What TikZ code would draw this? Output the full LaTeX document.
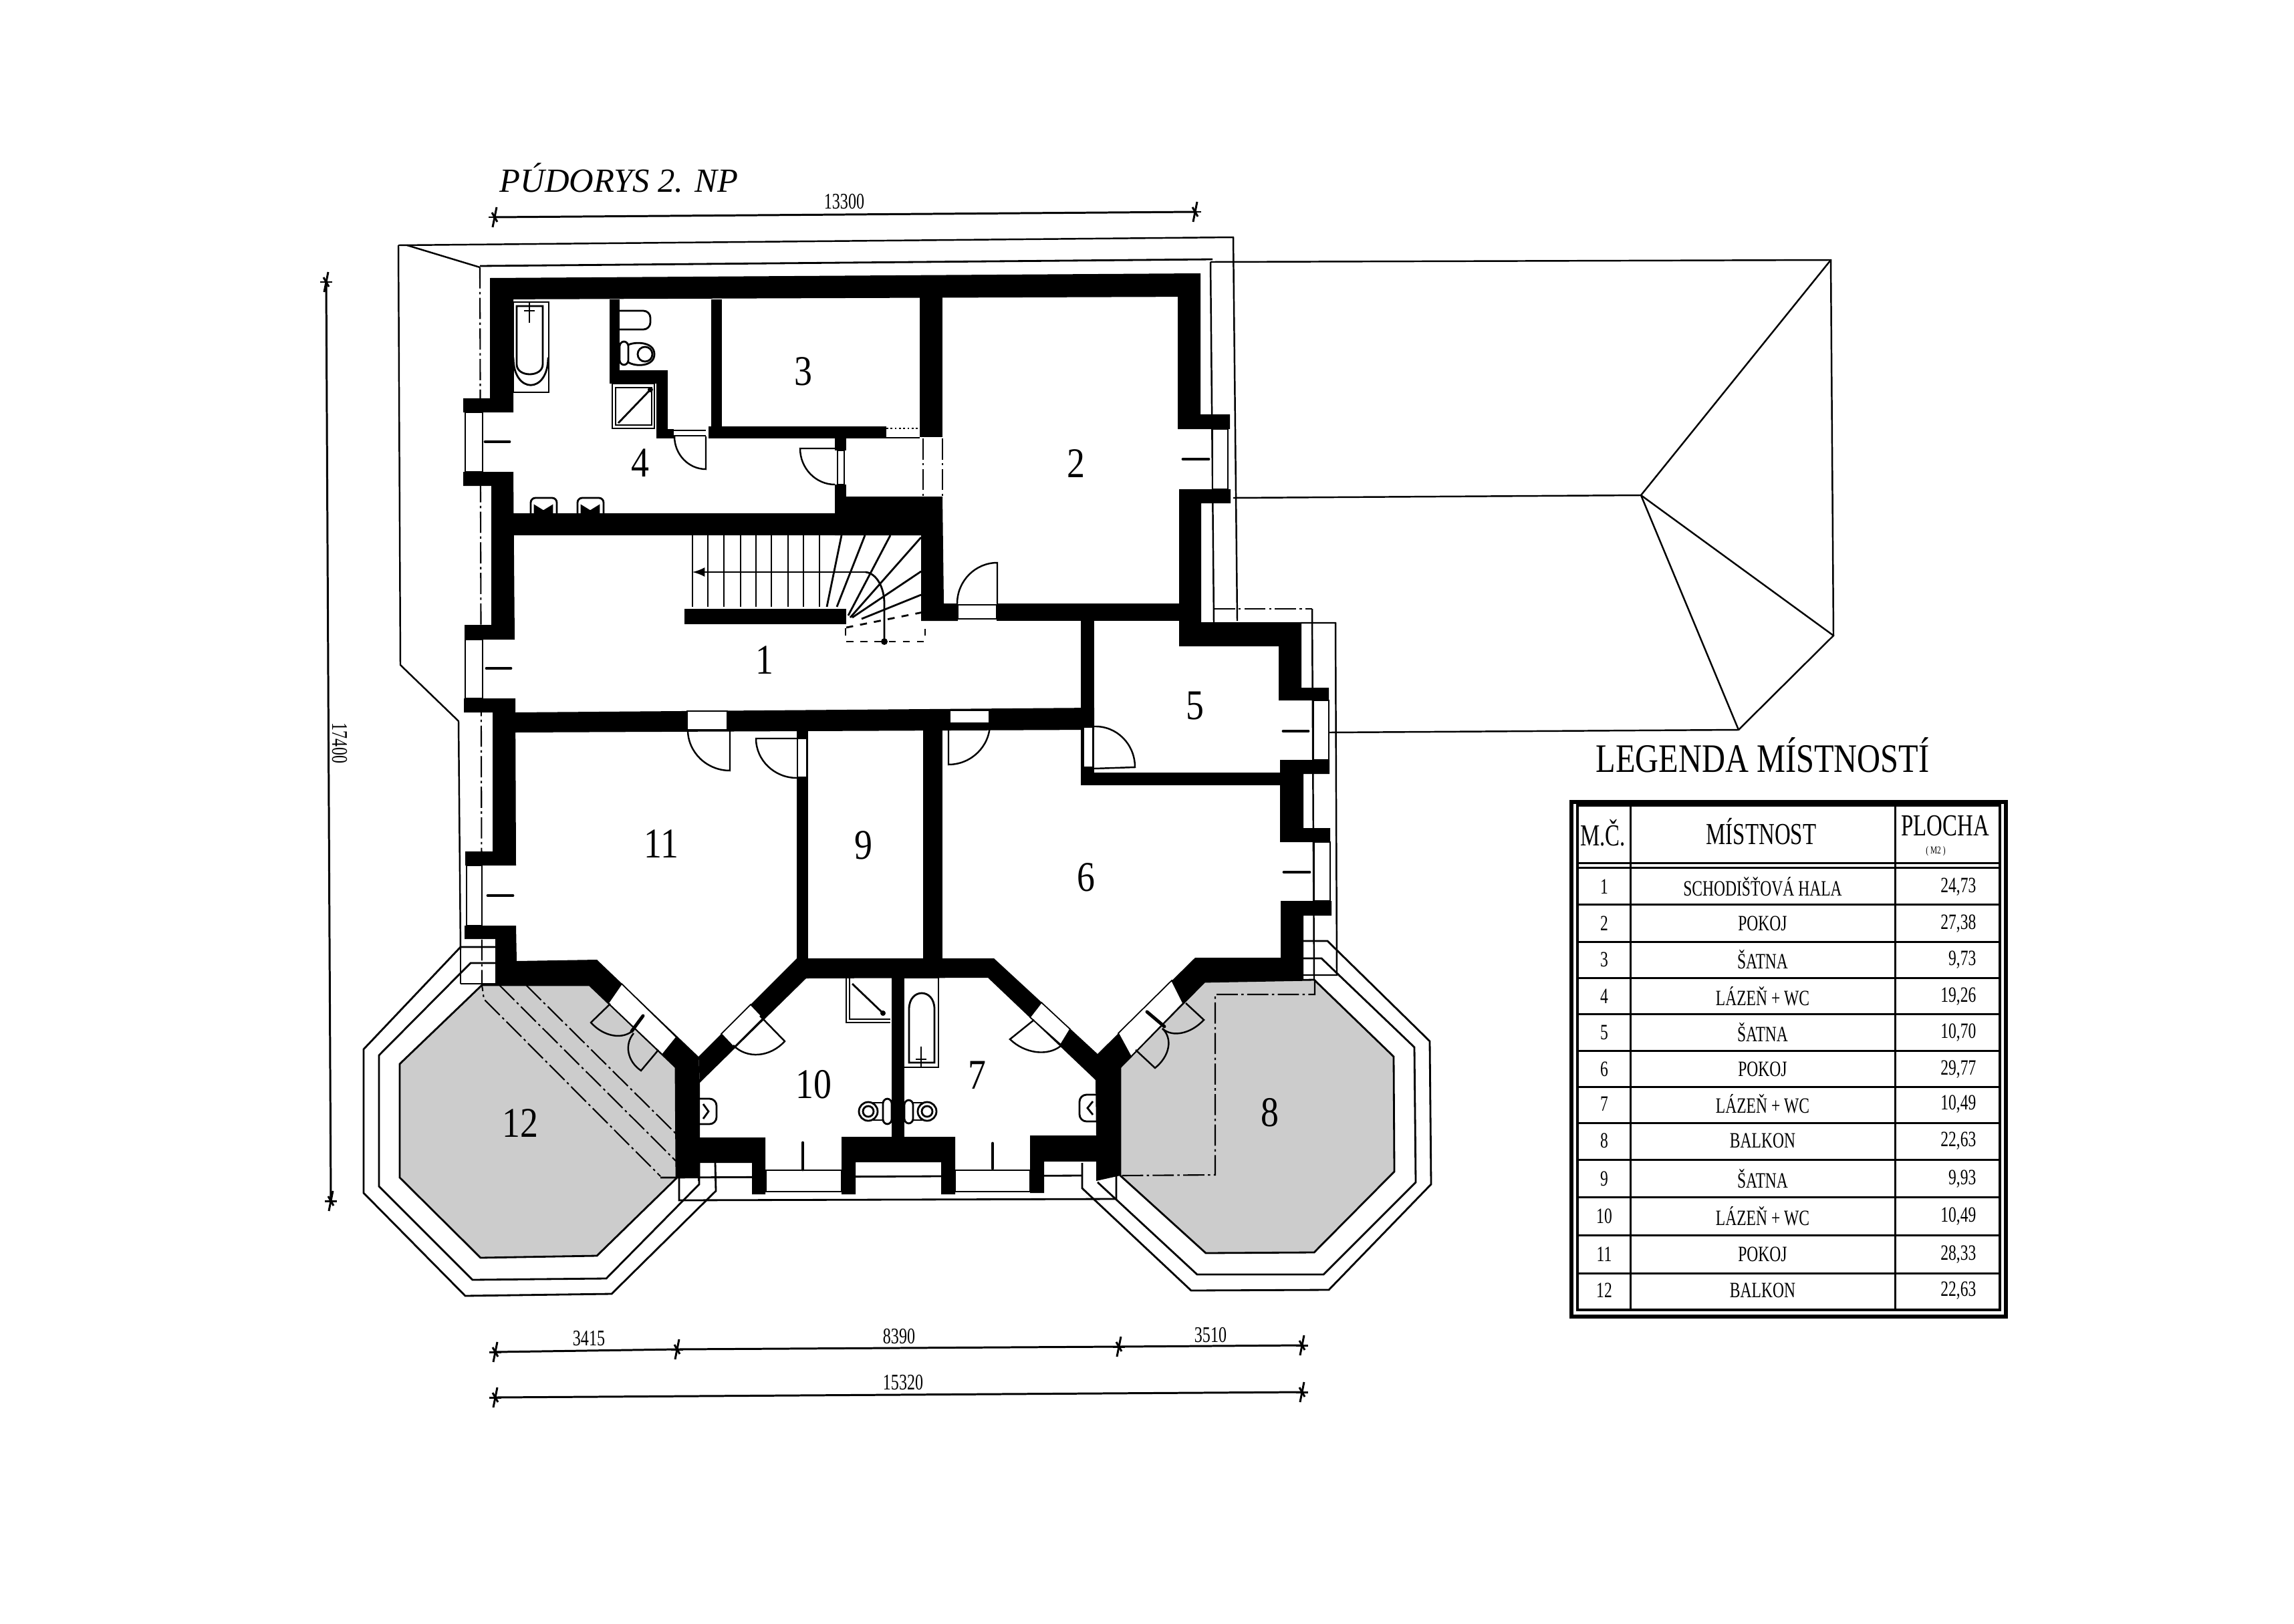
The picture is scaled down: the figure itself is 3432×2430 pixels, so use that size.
\documentclass[tikz,border=0pt]{standalone}
\usepackage{fontspec}
\setmainfont{Liberation Serif}
\newfontfamily\roomfont[FakeStretch=.85]{Liberation Serif}
\newfontfamily\legendfont[FakeStretch=.8]{Liberation Serif}
\newfontfamily\cellfont[FakeStretch=.72]{Liberation Serif}
\usetikzlibrary{calc}
\tikzset{
  wallfill/.style={fill=black,draw=none},
  gapfill/.style={fill=white,draw=black,line width=.5pt},
  thinline/.style={draw=black,line width=.7pt},
  ringline/.style={draw=black,line width=.8pt},
  dashdotline/.style={draw=black,line width=.6pt,dash pattern=on 9pt off 1.5pt on 1pt off 1.5pt},
  fixture/.style={draw=black,line width=.8pt},
  dimline/.style={draw=black,line width=.85pt},
  windowmark/.style={draw=black,line width=1.4pt,line cap=round},
  roomnum/.style={font=\roomfont\fontsize{18}{18}\selectfont,inner sep=0pt},
  dimnum/.style={font=\cellfont\fontsize{9.5}{9.5}\selectfont,inner sep=0pt},
  cellnum/.style={font=\cellfont\fontsize{9.3}{9.3}\selectfont,inner sep=0pt},
  cellhead/.style={font=\cellfont\fontsize{13}{13}\selectfont,inner sep=0pt},
  tableline/.style={draw=black,line width=.85pt}
}
\newcommand{\dimtick}[1]{\draw[dimline] ($(#1)+(-3,15)$) -- ($(#1)+(3,-15)$);
\draw[dimline] ($(#1)+(-9,0)$) -- ($(#1)+(9,0)$);
\draw[dimline] ($(#1)+(-4,-7)$) -- ($(#1)+(4,7)$);}
\newcommand{\doorswing}[3]{\draw[thinline] (#1) -- (#2) .. controls ($(#2)+.55*(#3)-.55*(#1)$) and ($(#3)+.55*(#2)-.55*(#1)$) .. (#3);}
\begin{document}
\begin{tikzpicture}[x=0.01cm,y=-0.01cm]
\useasboundingbox (0,0) rectangle (3432,2430);
\fill[white] (0,0) rectangle (3432,2430);
\filldraw[fill=black!20,ringline] (721,1474) -- (598,1592) -- (598,1762) -- (719,1882) -- (893,1879) -- (1012,1763) -- (1011,1597) -- (882,1474) -- cycle;
\filldraw[fill=black!20,ringline] (1802,1469) -- (1966,1466) -- (2085,1581) -- (2086,1753) -- (1966,1874) -- (1804,1875) -- (1676,1759) -- (1676,1597) -- cycle;
\draw[ringline] (741,1441) -- (704,1441) -- (567,1579) -- (567,1775) -- (707,1915) -- (907,1913) -- (1046,1772) -- (1046,1740);
\draw[ringline] (741,1417) -- (689,1417) -- (544,1570) -- (544,1785) -- (696,1939) -- (915,1936) -- (1071,1782) -- (1070,1740);
\draw[ringline] (1950,1434) -- (1977,1434) -- (2116,1567) -- (2118,1769) -- (1980,1907) -- (1791,1907) -- (1642,1769);
\draw[ringline] (1950,1408) -- (1986,1408) -- (2139,1558) -- (2141,1772) -- (1988,1930) -- (1782,1931) -- (1619,1778) -- (1619,1740);
\draw[thinline] (689,1472) -- (741,1472);
\draw[thinline] (689,1417) -- (689,1472);
\draw[thinline] (596,367) -- (1845,355) -- (1851,929);
\draw[thinline] (596,367) -- (599,995) -- (686,1079) -- (689,1421);
\draw[thinline] (609,367) -- (718,400);
\draw[ringline] (718,398) -- (1814,388);
\draw[dashdotline] (718,400) -- (721,1474) -- (724,1495) -- (988,1760);
\draw[dashdotline] (747,1474) -- (1011,1737);
\draw[dashdotline] (787,1474) -- (1011,1696);
\draw[dashdotline] (1967,1466) -- (1967,1488) -- (1818,1488) -- (1818,1758) -- (1676,1759);
\draw[thinline] (1811,392) -- (1816,932);
\draw[dashdotline] (1816,911) -- (1963,911);
\draw[thinline] (1963,911) -- (1966,1466);
\draw[thinline] (1946,932) -- (1998,932) -- (2000,1459) -- (1950,1459);
\draw[thinline] (1811,392) -- (2739,389) -- (2743,951) -- (2601,1092) -- (1988,1096);
\draw[thinline] (2739,389) -- (2455,741) -- (1845,745);
\draw[thinline] (2455,741) -- (2743,951);
\draw[thinline] (2455,741) -- (2601,1092);
\draw[ringline] (988,1762) -- (1619,1759);
\draw[ringline] (1016,1740) -- (1016,1796) -- (1670,1794) -- (1670,1738);
\draw[thinline] (1045,1740) -- (1045,1767);
\draw[gapfill] (696,617) rectangle (722,706);
\draw[gapfill] (696,957) rectangle (722,1045);
\draw[gapfill] (698,1295) rectangle (721,1385);
\draw[gapfill] (1814,642) rectangle (1837,732);
\draw[gapfill] (1965,1048) rectangle (1988,1137);
\draw[gapfill] (1966,1260) rectangle (1990,1348);
\draw[gapfill] (1146,1751) rectangle (1259,1783);
\draw[gapfill] (1429,1751) rectangle (1541,1783);
\draw[dashdotline] (1381,656) -- (1381,743);
\draw[dashdotline] (1410,656) -- (1410,743);
\fill[wallfill] (733,416) -- (1794,409) -- (1794,444) -- (733,448) -- cycle;
\fill[wallfill] (733,416) -- (768,416) -- (768,617) -- (693,617) -- (693,596) -- (733,596) -- cycle;
\fill[wallfill] (693,706) -- (768,706) -- (770,957) -- (695,957) -- (695,935) -- (735,935) -- (735,727) -- (693,727) -- cycle;
\fill[wallfill] (694,1045) -- (771,1045) -- (772,1295) -- (696,1295) -- (696,1274) -- (737,1274) -- (737,1066) -- (694,1066) -- cycle;
\fill[wallfill] (695,1385) -- (772,1385) -- (773,1438) -- (893,1436) -- (1045,1581) -- (1045,1620) -- (1011,1597) -- (882,1474) -- (741,1474) -- (741,1405) -- (695,1405) -- cycle;
\fill[wallfill] (1011,1597) -- (1045,1581) -- (1047,1620) -- (1047,1702) -- (1145,1702) -- (1145,1787) -- (1125,1787) -- (1125,1740) -- (1047,1740) -- (1047,1762) -- (1011,1762) -- cycle;
\fill[wallfill] (1045,1581) -- (1192,1434) -- (1487,1434) -- (1642,1577) -- (1788,1433) -- (1916,1433) -- (1916,1348) -- (1992,1348) -- (1992,1370) -- (1950,1370) -- (1950,1466) -- (1802,1469) -- (1676,1597) -- (1676,1759) -- (1640,1767) -- (1640,1738) -- (1562,1738) -- (1562,1785) -- (1541,1785) -- (1541,1699) -- (1640,1699) -- (1639,1616) -- (1478,1463) -- (1206,1464) -- (1047,1620) -- cycle;
\fill[wallfill] (1259,1701) -- (1429,1701) -- (1429,1787) -- (1408,1787) -- (1408,1739) -- (1280,1739) -- (1280,1787) -- (1259,1787) -- cycle;
\fill[wallfill] (1334,1463) rectangle (1353,1703);
\fill[wallfill] (1192,1094) rectangle (1209,1436);
\fill[wallfill] (1381,1092) rectangle (1410,1436);
\fill[wallfill] (771,1066) -- (1637,1059) -- (1637,1092) -- (771,1096) -- cycle;
\fill[wallfill] (1617,929) rectangle (1637,1175);
\fill[wallfill] (1617,1156) rectangle (1916,1175);
\fill[wallfill] (1762,409) -- (1796,409) -- (1796,620) -- (1840,620) -- (1840,642) -- (1762,642) -- cycle;
\fill[wallfill] (1764,732) -- (1841,732) -- (1841,753) -- (1797,753) -- (1797,931) -- (1947,931) -- (1947,1029) -- (1988,1029) -- (1988,1048) -- (1913,1048) -- (1913,967) -- (1764,967) -- cycle;
\fill[wallfill] (1915,1137) -- (1989,1137) -- (1989,1158) -- (1950,1158) -- (1950,1239) -- (1990,1239) -- (1990,1260) -- (1915,1260) -- cycle;
\fill[wallfill] (1376,444) rectangle (1410,654);
\fill[wallfill] (1249,743) -- (1410,743) -- (1412,903) -- (1433,903) -- (1433,929) -- (1378,929) -- (1378,801) -- (1249,801) -- cycle;
\fill[wallfill] (768,768) rectangle (1250,801);
\fill[wallfill] (1491,903) rectangle (1764,929);
\fill[wallfill] (1024,911) rectangle (1266,934);
\fill[wallfill] (1064,448) rectangle (1080,638);
\fill[wallfill] (1060,638) rectangle (1326,656);
\fill[wallfill] (982,642) rectangle (1008,656);
\fill[wallfill] (1249,656) rectangle (1266,674);
\fill[wallfill] (1249,725) rectangle (1266,743);
\fill[wallfill] (912,448) rectangle (927,567);
\fill[wallfill] (912,554) rectangle (999,574);
\fill[wallfill] (982,554) rectangle (999,656);
\draw[thinline] (1008,644) -- (1056,644);
\draw[thinline] (1008,652) -- (1056,652);
\draw[ringline,densely dotted] (1326,641) -- (1376,641);
\draw[ringline] (1326,655) -- (1376,655);
\draw[gapfill] (1028,1064) rectangle (1088,1092);
\fill[white] (1422,1064) rectangle (1479,1081);
\draw[gapfill] (1433,905) rectangle (1491,926);
\fill[white] (1194,1106) rectangle (1206,1162);
\fill[white] (1622,1089) rectangle (1634,1147);
\draw[gapfill] (1253,674) rectangle (1263,725);
\filldraw[gapfill] (930,1472) -- (1012,1552) -- (991,1578) -- (910,1501) -- cycle;
\filldraw[gapfill] (1079,1547) -- (1123,1503) -- (1142,1523) -- (1098,1567) -- cycle;
\filldraw[gapfill] (1558,1500) -- (1601,1540) -- (1587,1563) -- (1541,1522) -- cycle;
\filldraw[gapfill] (1673,1546) -- (1753,1467) -- (1770,1501) -- (1692,1581) -- cycle;
\draw[windowmark] (726,661) -- (762,661);
\draw[windowmark] (728,1000) -- (764,1000);
\draw[windowmark] (730,1340) -- (767,1340);
\draw[windowmark] (1770,687) -- (1808,687);
\draw[windowmark] (1920,1094) -- (1957,1094);
\draw[windowmark] (1921,1305) -- (1959,1305);
\draw[windowmark] (1201,1710) -- (1201,1750);
\draw[windowmark] (1485,1711) -- (1485,1748);
\draw[windowmark] (962,1520) -- (945,1543);
\draw[windowmark] (1716,1514) -- (1742,1536);
\doorswing{1056,653}{1056,702}{1009,653}
\doorswing{1249,671}{1197,671}{1249,725}
\doorswing{1492,903}{1492,842}{1432,903}
\doorswing{1092,1092}{1092,1153}{1029,1092}
\doorswing{1192,1105}{1131,1105}{1192,1164}
\doorswing{1419,1083}{1419,1144}{1481,1083}
\doorswing{1637,1150}{1698,1148}{1637,1087}
\doorswing{1547,1526}{1511,1555}{1587,1565}
\doorswing{1137,1520}{1174,1558}{1097,1564}
\doorswing{913,1502}{884,1530}{948,1541}
\doorswing{985,1571}{959,1602}{948,1546}
\doorswing{1774,1501}{1801,1526}{1739,1539}
\doorswing{1699,1571}{1728,1598}{1739,1539}
\draw[fixture] (768,452) rectangle (821,587);
\draw[fixture] (773,458) -- (773,545) .. controls (773,565) and (812,565) .. (812,545) -- (812,458) -- cycle;
\draw[fixture] (768,535) .. controls (768,590) and (820,590) .. (820,535);
\draw[fixture] (792,452) -- (792,483);
\draw[fixture] (784,465) -- (800,465);
\draw[fixture,rounded corners=2pt] (794,768) -- (794,745) -- (833,745) -- (833,768);
\filldraw[fixture,fill=black] (800,757) -- (813,765) -- (826,757) -- (826,768) -- (800,768) -- cycle;
\draw[fixture,rounded corners=2pt] (864,768) -- (864,745) -- (903,745) -- (903,768);
\filldraw[fixture,fill=black] (870,757) -- (883,765) -- (896,757) -- (896,768) -- (870,768) -- cycle;
\draw[fixture,rounded corners=3pt] (927,465) -- (973,465) -- (973,493) -- (927,493);
\draw[fixture,rounded corners=2pt] (927,511) rectangle (940,546);
\draw[fixture] (940,516) .. controls (950,511) and (979,511) .. (979,530) .. controls (979,549) and (950,549) .. (940,542);
\draw[fixture] (965,530) circle [radius=11];
\draw[fixture] (916,574) rectangle (979,641);
\draw[fixture] (921,580) rectangle (975,636);
\draw[fixture] (925,633) -- (973,583);
\fill (973,583) circle [radius=4];
\draw[fixture] (1266,1463) -- (1266,1530) -- (1332,1530);
\draw[fixture] (1271,1463) -- (1271,1525) -- (1332,1525);
\draw[fixture] (1275,1472) -- (1321,1516);
\fill (1321,1516) circle [radius=4];
\draw[fixture] (1353,1463) -- (1404,1463) -- (1404,1597) -- (1353,1597);
\draw[fixture] (1360,1590) -- (1360,1510) .. controls (1360,1478) and (1398,1478) .. (1398,1510) -- (1398,1590) -- cycle;
\draw[fixture] (1378,1566) -- (1378,1597);
\draw[fixture] (1370,1585) -- (1386,1585);
\draw[fixture,rounded corners=2pt] (1321,1644) rectangle (1334,1682);
\draw[fixture] (1299,1663) circle [radius=14];
\draw[fixture] (1299,1663) circle [radius=8];
\draw[fixture] (1321,1650) -- (1306,1650);
\draw[fixture] (1321,1676) -- (1306,1676);
\draw[fixture,rounded corners=2pt] (1353,1646) rectangle (1366,1681);
\draw[fixture] (1387,1663) circle [radius=14];
\draw[fixture] (1387,1663) circle [radius=8];
\draw[fixture] (1366,1650) -- (1380,1650);
\draw[fixture] (1366,1676) -- (1380,1676);
\draw[fixture,rounded corners=3pt] (1047,1644) -- (1072,1644) -- (1072,1682) -- (1047,1682);
\draw[fixture] (1052,1652) -- (1060,1663) -- (1052,1674);
\draw[fixture,rounded corners=3pt] (1640,1638) -- (1615,1638) -- (1615,1678) -- (1640,1678);
\draw[fixture] (1635,1648) -- (1627,1658) -- (1635,1668);
\draw[fixture] (1036,801) -- (1036,908);
\draw[fixture] (1059,801) -- (1059,908);
\draw[fixture] (1083,801) -- (1083,908);
\draw[fixture] (1108,801) -- (1108,908);
\draw[fixture] (1131,801) -- (1131,908);
\draw[fixture] (1154,801) -- (1154,908);
\draw[fixture] (1179,801) -- (1179,908);
\draw[fixture] (1202,801) -- (1202,908);
\draw[fixture] (1226,801) -- (1226,908);
\draw[fixture] (1237,908) -- (1259,801);
\draw[fixture] (1252,908) -- (1294,801);
\draw[fixture] (1269,921) -- (1332,801);
\draw[fixture] (1272,924) -- (1378,804);
\draw[fixture] (1275,924) -- (1378,855);
\draw[fixture] (1289,926) -- (1378,890);
\draw[fixture,-latex] (1295,856) -- (1036,856);
\draw[fixture] (1295,856) .. controls (1312,858) and (1323,880) .. (1323,903) -- (1323,960);
\fill (1323,960) circle [radius=5];
\draw[fixture,dashed] (1265,919) -- (1265,960) -- (1384,960) -- (1384,934);
\draw[fixture,dashed] (1266,939) -- (1381,916);
\coordinate (dimtopl) at (740,325);
\coordinate (dimtopr) at (1788,317);
\coordinate (dimleftt) at (488,422);
\coordinate (dimleftb) at (495,1797);
\coordinate (dimlowa) at (741,2023);
\coordinate (dimlowb) at (1013,2019);
\coordinate (dimlowc) at (1674,2015);
\coordinate (dimlowd) at (1948,2013);
\coordinate (dimsuma) at (741,2091);
\coordinate (dimsumb) at (1948,2083);
\draw[dimline] (dimtopl) -- (dimtopr);
\draw[dimline] (dimleftt) -- (dimleftb);
\draw[dimline] (dimlowa) -- (dimlowb) -- (dimlowc) -- (dimlowd);
\draw[dimline] (dimsuma) -- (dimsumb);
\dimtick{dimtopl}
\dimtick{dimtopr}
\dimtick{dimleftt}
\dimtick{dimleftb}
\dimtick{dimlowa}
\dimtick{dimlowb}
\dimtick{dimlowc}
\dimtick{dimlowd}
\dimtick{dimsuma}
\dimtick{dimsumb}
\node[dimnum] (dimtoptext) at (1263,302) {13300};
\node[dimnum,rotate=-90] (dimlefttext) at (508,1112) {17400};
\node[dimnum] (dimlowatext) at (881,2003) {3415};
\node[dimnum] (dimlowbtext) at (1345,2000) {8390};
\node[dimnum] (dimlowctext) at (1811,1998) {3510};
\node[dimnum] (dimsumtext) at (1351,2069) {15320};
\node[inner sep=0pt,font=\itshape\fontsize{14.4}{14.4}\selectfont] (plantitle) at (926,266) {PÚDORYS 2. NP};
\node[roomnum] (room1) at (1144,988) {1};
\node[roomnum] (room2) at (1610,694) {2};
\node[roomnum] (room3) at (1202,556) {3};
\node[roomnum] (room4) at (958,693) {4};
\node[roomnum] (room5) at (1788,1056) {5};
\node[roomnum] (room6) at (1625,1313) {6};
\node[roomnum] (room7) at (1462,1609) {7};
\node[roomnum] (room8) at (1900,1665) {8};
\node[roomnum] (room9) at (1292,1265) {9};
\node[roomnum] (room10) at (1217,1623) {10};
\node[roomnum] (room11) at (989,1263) {11};
\node[roomnum] (room12) at (778,1681) {12};
\node[inner sep=0pt,font=\legendfont\fontsize{17.2}{17.2}\selectfont] (legendtitle) at (2637,1130) {LEGENDA MÍSTNOSTÍ};
\draw[line width=1.5pt] (2351,1200) rectangle (3001,1970);
\draw[line width=.9pt] (2360,1205) rectangle (2992,1960);
\draw[tableline] (2439,1205) -- (2439,1960);
\draw[tableline] (2835,1205) -- (2835,1960);
\draw[tableline] (2360,1291) -- (2992,1291);
\draw[tableline] (2360,1298) -- (2992,1298);
\draw[tableline] (2360,1353) -- (2992,1353);
\draw[tableline] (2360,1409) -- (2992,1409);
\draw[tableline] (2360,1463) -- (2992,1463);
\draw[tableline] (2360,1517) -- (2992,1517);
\draw[tableline] (2360,1572) -- (2992,1572);
\draw[tableline] (2360,1626) -- (2992,1626);
\draw[tableline] (2360,1680) -- (2992,1680);
\draw[tableline] (2360,1735) -- (2992,1735);
\draw[tableline] (2360,1791) -- (2992,1791);
\draw[tableline] (2360,1848) -- (2992,1848);
\draw[tableline] (2360,1905) -- (2992,1905);
\node[cellhead] (headno) at (2398,1246) {M.Č.};
\node[cellhead] (headname) at (2635,1244) {MÍSTNOST};
\node[cellhead] (headarea) at (2910,1236) {PLOCHA};
\node[inner sep=0pt,font=\cellfont\fontsize{4.5}{4.5}\selectfont] (headunit) at (2896,1274) {( M2 )};
\node[cellnum] (no1) at (2400,1327) {1};
\node[cellnum] (name1) at (2637,1327) {SCHODIŠŤOVÁ HALA};
\node[cellnum,anchor=east] (area1) at (2957,1327) {24,73};
\node[cellnum] (no2) at (2400,1382) {2};
\node[cellnum] (name2) at (2637,1382) {POKOJ};
\node[cellnum,anchor=east] (area2) at (2957,1382) {27,38};
\node[cellnum] (no3) at (2400,1436) {3};
\node[cellnum] (name3) at (2637,1436) {ŠATNA};
\node[cellnum,anchor=east] (area3) at (2957,1436) {9,73};
\node[cellnum] (no4) at (2400,1491) {4};
\node[cellnum] (name4) at (2637,1491) {LÁZEŇ + WC};
\node[cellnum,anchor=east] (area4) at (2957,1491) {19,26};
\node[cellnum] (no5) at (2400,1545) {5};
\node[cellnum] (name5) at (2637,1545) {ŠATNA};
\node[cellnum,anchor=east] (area5) at (2957,1545) {10,70};
\node[cellnum] (no6) at (2400,1600) {6};
\node[cellnum] (name6) at (2637,1600) {POKOJ};
\node[cellnum,anchor=east] (area6) at (2957,1600) {29,77};
\node[cellnum] (no7) at (2400,1652) {7};
\node[cellnum] (name7) at (2637,1652) {LÁZEŇ + WC};
\node[cellnum,anchor=east] (area7) at (2957,1652) {10,49};
\node[cellnum] (no8) at (2400,1707) {8};
\node[cellnum] (name8) at (2637,1707) {BALKON};
\node[cellnum,anchor=east] (area8) at (2957,1707) {22,63};
\node[cellnum] (no9) at (2400,1764) {9};
\node[cellnum] (name9) at (2637,1764) {ŠATNA};
\node[cellnum,anchor=east] (area9) at (2957,1764) {9,93};
\node[cellnum] (no10) at (2400,1820) {10};
\node[cellnum] (name10) at (2637,1820) {LÁZEŇ + WC};
\node[cellnum,anchor=east] (area10) at (2957,1820) {10,49};
\node[cellnum] (no11) at (2400,1877) {11};
\node[cellnum] (name11) at (2637,1877) {POKOJ};
\node[cellnum,anchor=east] (area11) at (2957,1877) {28,33};
\node[cellnum] (no12) at (2400,1931) {12};
\node[cellnum] (name12) at (2637,1931) {BALKON};
\node[cellnum,anchor=east] (area12) at (2957,1931) {22,63};
\end{tikzpicture}
\end{document}
